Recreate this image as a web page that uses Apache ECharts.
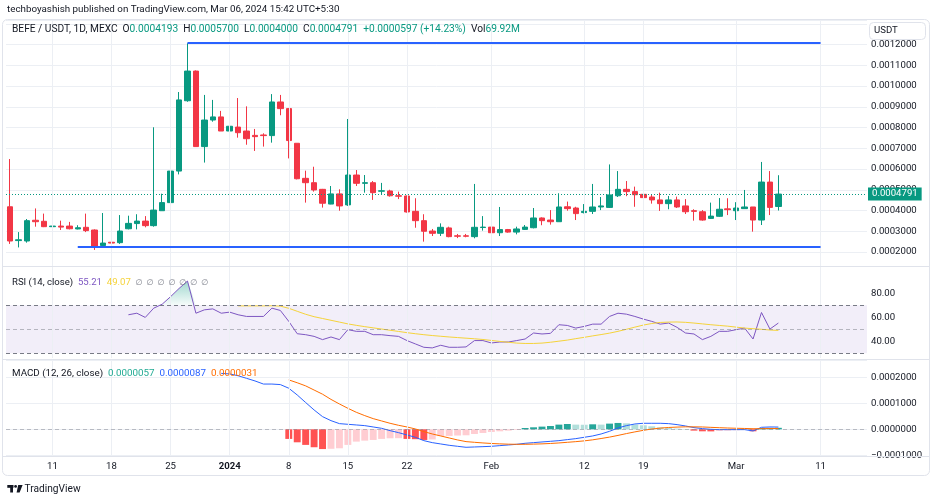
<!DOCTYPE html>
<html><head><meta charset="utf-8">
<script src="https://cdn.jsdelivr.net/npm/echarts@6/dist/echarts.min.js"></script>
<style>html,body{margin:0;padding:0;background:#fff}#c{width:936px;height:500px}</style>
</head><body><div id="c"></div>
<script>
// ---------- DATA ----------
const startDay = '2023-12-06';
const dayCount = 102;
const tickDates = ['2023-12-11','2023-12-18','2023-12-25','2024-01-01','2024-01-08','2024-01-15','2024-01-22','2024-02-01','2024-02-12','2024-02-19','2024-03-01','2024-03-11'];
const tickLabels = ['11','18','25','2024','8','15','22','Feb','12','19','Mar','11'];

const opens = [0.000418,0.000255,0.000253,0.000353,0.000348,0.000322,0.000325,0.000325,0.000311,0.000319,
0.000306,0.000231,0.000247,0.000245,0.000312,0.000337,0.000349,0.000327,0.000399,0.000438,
0.000590,0.000929,0.001072,0.000708,0.000836,0.000851,0.000783,0.000802,0.000783,0.000762,
0.000764,0.000761,0.000923,0.000891,0.000724,0.000555,0.000534,0.000502,0.000431,0.000480,
0.000427,0.000571,0.000531,0.000534,0.000493,0.000494,0.000471,0.000470,0.000396,0.000351,
0.000301,0.000290,0.000316,0.000278,0.000278,0.000274,0.000318,0.000320,0.000293,0.000308,
0.000296,0.000309,0.000317,0.000364,0.000354,0.000346,0.000418,0.000412,0.000390,0.000396,
0.000417,0.000415,0.000471,0.000502,0.000491,0.000478,0.000465,0.000451,0.000433,0.000451,
0.000422,0.000399,0.000394,0.000362,0.000372,0.000408,0.000399,0.000409,0.000417,0.000354,
0.000537,0.0004193];
const closes = [0.000253,0.000259,0.000351,0.000346,0.000322,0.000325,0.000320,0.000312,0.000317,0.000303,
0.000229,0.000243,0.000243,0.000301,0.000338,0.000349,0.000327,0.000402,0.000438,0.000590,
0.000933,0.001072,0.000708,0.000836,0.000851,0.000783,0.000806,0.000775,0.000746,0.000756,
0.000761,0.000923,0.000891,0.000737,0.000553,0.000534,0.000499,0.000435,0.000480,0.000422,
0.000571,0.000531,0.000534,0.000486,0.000495,0.000471,0.000469,0.000393,0.000351,0.000300,
0.000290,0.000319,0.000274,0.000276,0.000276,0.000319,0.000320,0.000293,0.000308,0.000296,
0.000311,0.000320,0.000364,0.000351,0.000346,0.000417,0.000409,0.000385,0.000396,0.000417,
0.000422,0.000475,0.000502,0.000491,0.000476,0.000462,0.000451,0.000433,0.000451,0.000417,
0.000394,0.000396,0.000354,0.000373,0.000406,0.000404,0.000412,0.000417,0.000354,0.000537,
0.000415,0.0004791];
const lows = [0.000239,0.000222,0.000245,0.000322,0.000320,0.000296,0.000306,0.000309,0.000309,0.000296,
0.000210,0.000226,0.000218,0.000239,0.000309,0.000309,0.000319,0.000322,0.000399,0.000418,
0.000574,0.000924,0.000708,0.000631,0.000828,0.000783,0.000751,0.000751,0.000717,0.000687,
0.000708,0.000727,0.000859,0.000651,0.000550,0.000438,0.000491,0.000414,0.000430,0.000399,
0.000422,0.000518,0.000486,0.000451,0.000476,0.000467,0.000455,0.000390,0.000317,0.000250,
0.000277,0.000277,0.000271,0.000267,0.000271,0.000266,0.000303,0.000292,0.000277,0.000293,
0.000285,0.000306,0.000314,0.000329,0.000332,0.000346,0.000399,0.000354,0.000386,0.000383,
0.000402,0.000412,0.000465,0.000469,0.000418,0.000418,0.000433,0.000398,0.000406,0.000412,
0.000383,0.000351,0.000351,0.000359,0.000369,0.000378,0.000354,0.000409,0.000298,0.000330,
0.000378,0.0004000];
const highs = [0.000648,0.000296,0.000359,0.000410,0.000385,0.000341,0.000351,0.000345,0.000329,0.000385,
0.000309,0.000388,0.000253,0.000378,0.000375,0.000382,0.000373,0.000801,0.000481,0.000595,
0.000971,0.001206,0.001075,0.000957,0.000933,0.000880,0.000823,0.000942,0.000902,0.000793,
0.000772,0.000961,0.000957,0.000894,0.000724,0.000592,0.000611,0.000504,0.000518,0.000502,
0.000841,0.000595,0.000571,0.000542,0.000533,0.000500,0.000491,0.000472,0.000459,0.000382,
0.000311,0.000338,0.000322,0.000287,0.000287,0.000528,0.000373,0.000321,0.000417,0.000311,
0.000322,0.000330,0.000412,0.000367,0.000402,0.000483,0.000443,0.000418,0.000431,0.000528,
0.000465,0.000622,0.000590,0.000542,0.000515,0.000499,0.000475,0.000486,0.000470,0.000467,
0.000455,0.000406,0.000402,0.000438,0.000460,0.000459,0.000440,0.000499,0.000417,0.000634,
0.000590,0.0005700];

const resistanceLevel = 0.001207, resistanceFrom = 21, resistanceTo = 96;
const supportLevel = 0.000223, supportFrom = 8, supportTo = 96;

const rsiStart = 14;
const rsiValues = [62.1,63.4,59.9,67.6,70.9,77.2,84.0,90.2,63.4,66.2,
67.0,63.4,64.3,62.1,60.7,60.7,60.7,67.6,65.7,56.6,
46.3,45.5,44.1,41.4,43.6,41.4,49.7,48.3,48.3,45.5,
45.5,44.7,44.1,40.6,37.8,35.0,34.5,36.7,35.0,35.0,
35.3,40.6,40.6,38.6,39.4,39.4,40.6,41.9,46.9,46.1,
46.6,53.8,53.2,51.0,52.4,54.3,54.3,60.7,63.4,62.6,
60.7,58.5,56.6,54.3,55.2,51.6,46.9,46.1,41.4,44.1,
48.3,48.3,49.7,51.0,41.9,64.0,50.2,55.21];
const rsiMaStart = 27;
const rsiMaValues = [69.5,69.5,69.5,69.5,69.6,69.3,67.5,65,62.5,60.5,
59,57.5,56,54.5,53.3,52.2,51.2,50.2,49.2,48.2,
47.2,46.3,45.5,44.8,44.2,43.6,43.1,42.6,42.1,41.5,
40.7,39.9,39.2,38.5,38.2,38.2,38.5,39.2,40.1,41,
42.2,43.3,44.5,45.6,46.8,48.3,50,51.8,53.5,54.8,
55.7,56,56.1,55.8,55.2,54.5,53.8,53.2,52.6,51.8,
51,50.5,50,49.4,49.07];

const macdStart = 25;
const macdValues = [0.000215,0.000213,0.000206,0.000196,0.000186,0.000174,0.000174,0.000172,0.000158,0.000132,
0.000103,0.0000744,0.0000487,0.0000333,0.0000218,0.0000192,0.0000167,0.0000141,0.000009,0.0000038,
-0.0000051,-0.0000128,-0.0000218,-0.0000308,-0.0000436,-0.0000513,-0.0000564,-0.0000615,-0.0000654,-0.0000692,
-0.000068,-0.0000667,-0.0000654,-0.0000628,-0.0000603,-0.0000577,-0.0000538,-0.0000513,-0.0000487,-0.0000462,
-0.0000436,-0.0000397,-0.0000359,-0.0000308,-0.0000256,-0.000018,-0.0000077,0.0000051,0.0000141,0.0000205,
0.0000231,0.0000231,0.0000231,0.0000218,0.000018,0.0000128,0.0000064,0.0000026,0,-0.0000013,
-0.0000013,-0.0000013,-0.0000013,-0.0000064,0.0000077,0.000009,0.0000087];
const signalStart = 33;
const signalValues = [0.000190,0.000179,0.000167,0.000151,0.000135,0.000115,0.0000974,0.0000808,0.0000654,0.0000526,
0.000041,0.0000321,0.0000231,0.0000154,0.000009,0.0000013,-0.000009,-0.0000179,-0.0000256,-0.0000333,
-0.000041,-0.0000474,-0.00005,-0.0000525,-0.0000545,-0.000056,-0.0000572,-0.0000577,-0.0000577,-0.000057,
-0.000056,-0.0000545,-0.0000525,-0.00005,-0.0000475,-0.0000445,-0.0000405,-0.0000355,-0.00003,-0.0000235,
-0.0000165,-0.00001,-0.000004,0.000001,0.0000045,0.000007,0.0000085,0.0000095,0.0000095,0.000009,
0.0000075,0.0000062,0.000005,0.000004,0.0000032,0.0000022,0.0000025,0.000003,0.0000031];
const histStart = 33;
const histValues = [-0.000037,-0.00005,-0.00006,-0.000069,-0.000076,-0.000075,-0.000073,-0.00006,-0.0000474,-0.0000436,
-0.000041,-0.000037,-0.0000346,-0.0000342,-0.000037,-0.000038,-0.000041,-0.000039,-0.000026,-0.0000255,
-0.000024,-0.000023,-0.000018,-0.0000141,-0.0000103,-0.0000077,-0.0000051,-0.0000026,0.0000051,0.0000077,
0.0000103,0.0000128,0.000018,0.0000205,0.000018,0.0000175,0.0000192,0.000018,0.0000218,0.0000244,
0.000023,0.000018,0.0000154,0.0000115,0.0000077,0.0000051,0.0000026,0.0000013,-0.0000051,-0.0000077,
-0.000008,-0.0000064,-0.0000051,-0.0000038,-0.0000026,-0.0000077,0.0000051,0.0000055,0.0000057];

const publishText = 'techboyashish published on TradingView.com, Mar 06, 2024 15:42 UTC+5:30';
const symbolText = 'BEFE / USDT, 1D, MEXC';
const changeText = '+0.0000597 (+14.23%)';
const volText = '69.92M';
const rsiHeader = ['RSI (14, close)', '55.21', '49.07'];
const macdHeader = ['MACD (12, 26, close)', '0.0000057', '0.0000087', '0.0000031'];

// ---------- BUILD ----------
const categories = [];
{
  const t0 = Date.parse(startDay + 'T00:00:00Z');
  for (let k = 0; k < dayCount; k++) categories.push(new Date(t0 + k * 86400000).toISOString().slice(0, 10));
}
const pad = (start, arr) => new Array(start).fill(null).concat(arr);
const rsi = pad(rsiStart, rsiValues);
const rsiMa = pad(rsiMaStart, rsiMaValues);
const macd = pad(macdStart, macdValues);
const signal = pad(signalStart, signalValues);
const hist = pad(histStart, histValues);
const candleData = opens.map((o, i) => [o, closes[i], lows[i], highs[i]]);
const lastIdx = closes.length - 1;
const lastClose = closes[lastIdx];
const obFill = rsi.map(v => v == null ? null : Math.max(v, 70));

const FONT = 'Roboto, "Noto Sans", "DejaVu Sans", sans-serif';
const UP = '#089981', DOWN = '#F23645';
const TXT = '#131722';
const GRIDC = '#eceff4';
const tickSet = new Set(tickDates);
const labelOf = {};
tickDates.forEach((d, k) => labelOf[d] = tickLabels[k]);

const gl = 6, gr = 69;
// hidden carrier series used for the vertical date grid lines
const vGrid = (g, carrier) => ({
  type: 'line', xAxisIndex: g, yAxisIndex: g, data: carrier, z: 0, silent: true, symbol: 'none',
  lineStyle: { opacity: 0, width: 0 },
  markLine: { silent: true, symbol: 'none', label: { show: false }, animation: false,
    lineStyle: { color: GRIDC, width: 1, type: 'solid' },
    data: tickDates.map(d => ({ xAxis: d })) }
});

const fmt7 = v => v.toFixed(7);

const option = {
  animation: false,
  backgroundColor: '#ffffff',
  textStyle: { fontFamily: FONT },
  grid: [
    { left: gl, right: gr, top: 20, height: 246 },
    { left: gl, right: gr, top: 267, height: 91 },
    { left: gl, right: gr, top: 360, height: 96 }
  ],
  xAxis: [0, 1, 2].map(g => ({
    type: 'category', gridIndex: g, data: categories, boundaryGap: true,
    show: g === 2,
    axisLine: { show: false }, axisTick: { show: false }, splitLine: { show: false },
    axisLabel: {
      show: g === 2, margin: 6, color: TXT, fontSize: 9.6, fontFamily: FONT,
      interval: (idx, val) => tickSet.has(val),
      formatter: val => labelOf[val] === '2024' ? '{b|2024}' : (labelOf[val] || ''),
      rich: { b: { fontWeight: 'bold', fontSize: 9.6, color: TXT, fontFamily: FONT } }
    }
  })),
  yAxis: [
    { type: 'value', gridIndex: 0, position: 'right', scale: true,
      min: 0.00013253, max: 0.0013181, splitNumber: 12, minInterval: 0.0001, maxInterval: 0.0001,
      axisLine: { show: false }, axisTick: { show: false },
      splitLine: { lineStyle: { color: GRIDC } },
      axisLabel: { margin: 4, color: TXT, fontSize: 9.6, fontFamily: FONT,
        formatter: v => (v > 0.00125 || v < 0.00015) ? '' : fmt7(v) } },
    { type: 'value', gridIndex: 1, position: 'right',
      min: 26.08, max: 101.9, minInterval: 20, maxInterval: 20,
      axisLine: { show: false }, axisTick: { show: false }, splitLine: { show: false },
      axisLabel: { margin: 4, color: TXT, fontSize: 9.6, fontFamily: FONT,
        formatter: v => ([40, 60, 80].includes(Math.round(v * 1000) / 1000) ? v.toFixed(2) : '') } },
    { type: 'value', gridIndex: 2, position: 'right',
      min: -0.00010269, max: 0.00026654, minInterval: 0.0001, maxInterval: 0.0001,
      axisLine: { show: false }, axisTick: { show: false },
      splitLine: { lineStyle: { color: GRIDC } },
      axisLabel: { margin: 4, color: TXT, fontSize: 9.6, fontFamily: FONT,
        formatter: v => {
          const r = Math.round(v / 0.0001);
          if (Math.abs(v - r * 0.0001) > 1e-9) return '';
          if (r === 0) return '0.0000000';
          return (r < 0 ? '\u2212' : '') + Math.abs(r * 0.0001).toFixed(7);
        } } }
  ],
  series: [
    vGrid(0, closes), vGrid(1, rsi), vGrid(2, macd),
    {
      name: 'price', type: 'candlestick', xAxisIndex: 0, yAxisIndex: 0, z: 2,
      data: candleData, barWidth: 6,
      itemStyle: { color: UP, color0: DOWN, borderColor: UP, borderColor0: DOWN, borderWidth: 1 },
      markLine: {
        silent: true, symbol: 'none', animation: false, precision: 10,
        data: [
          [ { coord: [categories[resistanceFrom], resistanceLevel], lineStyle: { color: '#2962FF', width: 2, type: 'solid' }, label: { show: false } },
            { coord: [categories[resistanceTo], resistanceLevel] } ],
          [ { coord: [categories[supportFrom], supportLevel], lineStyle: { color: '#2962FF', width: 2, type: 'solid' }, label: { show: false } },
            { coord: [categories[supportTo], supportLevel] } ]
        ]
      }
    },
    {
      name: 'lastPrice', type: 'line', xAxisIndex: 0, yAxisIndex: 0, data: closes, z: 4, silent: true, symbol: 'none',
      lineStyle: { opacity: 0, width: 0 },
      markLine: {
        silent: true, symbol: 'none', animation: false, precision: 10,
        data: [{
          yAxis: lastClose,
          lineStyle: { color: UP, type: [1, 2], width: 1 },
          label: { show: true, position: 'end', distance: 1, formatter: () => fmt7(lastClose),
            color: '#fff', backgroundColor: UP, padding: [2, 4, 1, 4], fontSize: 9.6, fontFamily: FONT }
        }]
      }
    },
    {
      name: 'ob', type: 'line', xAxisIndex: 1, yAxisIndex: 1, data: obFill, symbol: 'none', z: 1,
      lineStyle: { width: 0, opacity: 0 },
      areaStyle: { origin: 70, color: new echarts.graphic.LinearGradient(0, 0, 0, 1, [
        { offset: 0, color: 'rgba(8,153,129,0.55)' }, { offset: 1, color: 'rgba(8,153,129,0.05)' }]) }
    },
    {
      name: 'RSI', type: 'line', xAxisIndex: 1, yAxisIndex: 1, data: rsi, symbol: 'none', z: 3,
      lineStyle: { color: '#7E57C2', width: 1 },
      markArea: { silent: true, itemStyle: { color: 'rgba(126,87,194,0.10)' }, data: [[{ yAxis: 30 }, { yAxis: 70 }]] },
      markLine: { silent: true, symbol: 'none', label: { show: false }, animation: false,
        data: [
          { yAxis: 70, lineStyle: { color: '#787b86', type: [4, 3], width: 1 } },
          { yAxis: 50, lineStyle: { color: 'rgba(120,123,134,0.5)', type: [4, 3], width: 1 } },
          { yAxis: 30, lineStyle: { color: '#787b86', type: [4, 3], width: 1 } }
        ] }
    },
    {
      name: 'RSI MA', type: 'line', xAxisIndex: 1, yAxisIndex: 1, data: rsiMa, symbol: 'none', z: 3,
      lineStyle: { color: '#F5D33A', width: 1 }
    },
    {
      name: 'Hist', type: 'bar', xAxisIndex: 2, yAxisIndex: 2, data: hist, barWidth: '82%', z: 2,
      itemStyle: { color: p => {
        const i = p.dataIndex, v = hist[i], prev = hist[i - 1];
        const rising = prev == null ? false : v > prev;
        if (v >= 0) return rising ? '#26A69A' : '#B2DFDB';
        return rising ? '#FFCDD2' : '#FF5252';
      } },
      markLine: { silent: true, symbol: 'none', label: { show: false }, animation: false,
        data: [{ yAxis: 0, lineStyle: { color: 'rgba(120,123,134,0.45)', type: [4, 3], width: 1 } }] }
    },
    {
      name: 'MACD', type: 'line', xAxisIndex: 2, yAxisIndex: 2, data: macd, symbol: 'none', z: 3,
      lineStyle: { color: '#2962FF', width: 1 }
    },
    {
      name: 'Signal', type: 'line', xAxisIndex: 2, yAxisIndex: 2, data: signal, symbol: 'none', z: 3,
      lineStyle: { color: '#FF6D00', width: 1 }
    }
  ],
  graphic: [
    { type: 'rect', z: 100, silent: true, shape: { x: 2.5, y: 19.5, width: 927, height: 456, r: 5 },
      style: { fill: 'none', stroke: '#e0e3eb', lineWidth: 1 } },
    { type: 'line', z: 100, silent: true, shape: { x1: 3, y1: 266.5, x2: 929, y2: 266.5 }, style: { stroke: '#e0e3eb', lineWidth: 1 } },
    { type: 'line', z: 100, silent: true, shape: { x1: 3, y1: 359.5, x2: 929, y2: 359.5 }, style: { stroke: '#e0e3eb', lineWidth: 1 } },
    { type: 'line', z: 100, silent: true, shape: { x1: 3, y1: 456.5, x2: 929, y2: 456.5 }, style: { stroke: '#e0e3eb', lineWidth: 1 } },
    { type: 'text', z: 100, x: 7, y: 10, style: { text: publishText, fontSize: 9.8, fontFamily: FONT, fill: TXT, verticalAlign: 'middle' } },
    { type: 'text', z: 100, x: 12, y: 29, style: {
        text: '{t|' + symbolText + '}  {t|O}{v|' + fmt7(opens[lastIdx]) + '}  {t|H}{v|' + fmt7(highs[lastIdx]) + '}  {t|L}{v|' + fmt7(lows[lastIdx]) + '}  {t|C}{v|' + fmt7(closes[lastIdx]) + '}  {v|' + changeText + '}  {t|Vol}{v|' + volText + '}',
        verticalAlign: 'middle', fontSize: 10.2, fontFamily: FONT,
        rich: { t: { fill: TXT, fontSize: 10.2, fontFamily: FONT }, v: { fill: UP, fontSize: 10.2, fontFamily: FONT } } } },
    { type: 'rect', z: 100, silent: true, shape: { x: 869.5, y: 22.5, width: 56, height: 17, r: 4 },
      style: { fill: '#fff', stroke: '#e0e3eb', lineWidth: 1 } },
    { type: 'text', z: 101, x: 874, y: 31, style: { text: 'USDT', fontSize: 9.6, fontFamily: FONT, fill: TXT, verticalAlign: 'middle' } },
    { type: 'text', z: 100, x: 12, y: 283, style: {
        text: '{t|' + rsiHeader[0] + '}  {p|' + rsiHeader[1] + '}  {y|' + rsiHeader[2] + '}  {g|\u2205  \u2205  \u2205  \u2205  \u2205  \u2205  \u2205}',
        verticalAlign: 'middle', fontSize: 9.6, fontFamily: FONT,
        rich: { t: { fill: TXT, fontSize: 9.6, fontFamily: FONT }, p: { fill: '#7E57C2', fontSize: 9.6, fontFamily: FONT },
                y: { fill: '#F5D33A', fontSize: 9.6, fontFamily: FONT }, g: { fill: '#787b86', fontSize: 8, fontFamily: FONT } } } },
    { type: 'text', z: 100, x: 12, y: 374, style: {
        text: '{t|' + macdHeader[0] + '}  {h|' + macdHeader[1] + '}  {m|' + macdHeader[2] + '}  {s|' + macdHeader[3] + '}',
        verticalAlign: 'middle', fontSize: 9.8, fontFamily: FONT,
        rich: { t: { fill: TXT, fontSize: 9.8, fontFamily: FONT }, h: { fill: '#22AB94', fontSize: 9.8, fontFamily: FONT },
                m: { fill: '#2962FF', fontSize: 9.8, fontFamily: FONT }, s: { fill: '#FF6D00', fontSize: 9.8, fontFamily: FONT } } } },
    // TradingView logo + wordmark
    { type: 'rect', z: 100, silent: true, shape: { x: 7.3, y: 485, width: 6.2, height: 2.8 }, style: { fill: TXT } },
    { type: 'rect', z: 100, silent: true, shape: { x: 10.2, y: 485, width: 2.8, height: 7.5 }, style: { fill: TXT } },
    { type: 'circle', z: 100, silent: true, shape: { cx: 15.6, cy: 486.4, r: 1.4 }, style: { fill: TXT } },
    { type: 'polygon', z: 100, silent: true, shape: { points: [[18.2, 485], [22.6, 485], [19.6, 492.5], [16.6, 492.5]] }, style: { fill: TXT } },
    { type: 'text', z: 100, x: 24.5, y: 489, style: { text: 'TradingView', fontSize: 10.2, fontFamily: FONT, fill: TXT, verticalAlign: 'middle' } }
  ]
};

const chart = echarts.init(document.getElementById('c'));
chart.setOption(option);
</script></body></html>
